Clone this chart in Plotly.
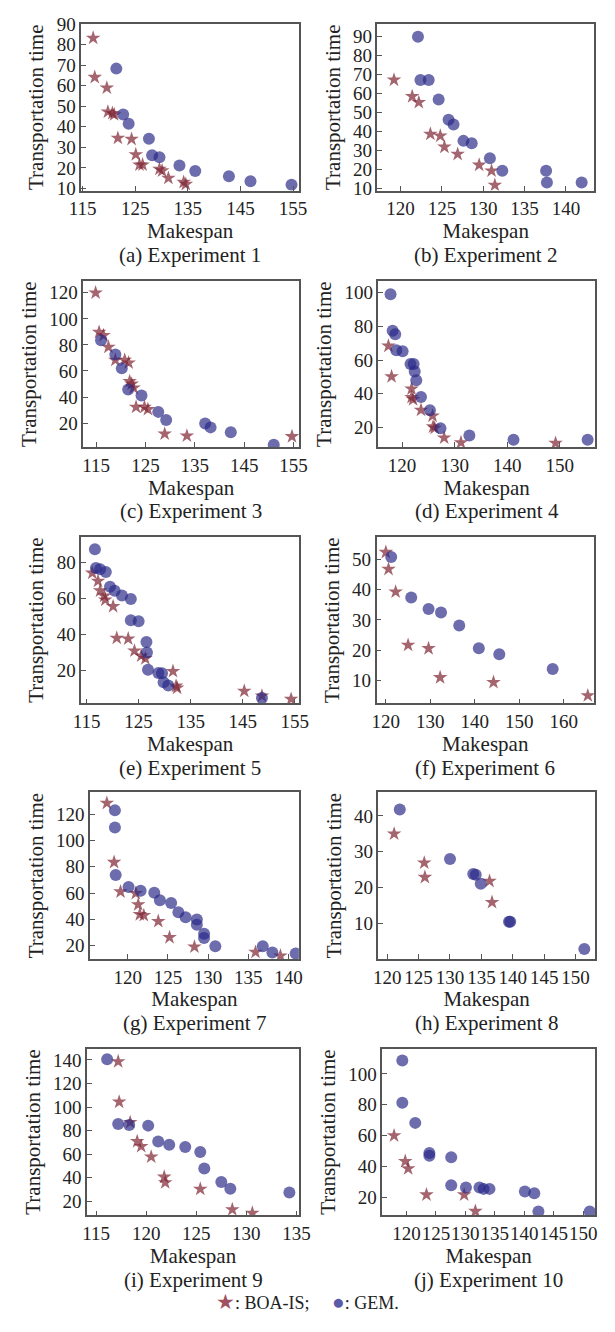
import plotly.graph_objects as go

# The page keeps the browser's default 8px body margin, so the figure is
# drawn on a 599x1316 canvas placed at (8, 8) of the 615x1332 window.
PAGE_W, PAGE_H, OFF = 615, 1332, 8
W, H = PAGE_W - 2 * OFF, PAGE_H - 2 * OFF

# ---------------- data (Makespan, Transportation time) ----------------
exp1_boa_x = [117.0, 117.3, 119.6, 119.8, 120.65, 121.0, 121.7, 124.3, 125.1, 125.8, 126.4, 129.6, 130.1, 131.3, 134.2, 134.6]
exp1_boa_y = [83.3, 64.2, 59.0, 47.3, 46.6, 46.0, 34.5, 34.0, 26.5, 21.5, 21.5, 19.4, 18.6, 15.0, 13.0, 12.0]
exp1_gem_x = [121.4, 122.7, 123.75, 127.6, 128.2, 129.6, 133.4, 136.4, 142.8, 146.9, 154.7]
exp1_gem_y = [68.4, 46.0, 41.5, 34.2, 26.2, 25.2, 21.2, 18.5, 15.9, 13.5, 11.8]

exp2_boa_x = [119.2, 121.4, 122.2, 123.6, 124.8, 125.3, 126.9, 129.5, 131.0, 131.4]
exp2_boa_y = [67.1, 58.4, 55.3, 38.6, 37.6, 31.8, 28.0, 22.3, 19.2, 11.7]
exp2_gem_x = [122.1, 122.4, 123.4, 124.6, 125.8, 126.4, 127.6, 128.6, 130.8, 132.3, 137.6, 137.7, 141.9]
exp2_gem_y = [89.8, 67.1, 67.1, 56.8, 46.1, 43.6, 35.0, 33.8, 25.8, 19.2, 19.2, 13.1, 13.1]

exp3_boa_x = [114.9, 115.6, 116.5, 117.5, 118.9, 120.8, 121.6, 121.8, 122.2, 122.6, 123.1, 124.8, 125.5, 128.9, 133.4, 154.7]
exp3_boa_y = [120.0, 89.8, 87.3, 78.4, 68.4, 68.4, 66.3, 52.0, 50.0, 47.0, 32.3, 32.3, 30.6, 11.7, 10.2, 9.7]
exp3_gem_x = [116.0, 118.9, 120.2, 121.5, 124.2, 127.6, 129.2, 137.1, 138.2, 142.3, 151.0]
exp3_gem_y = [83.5, 72.6, 62.0, 45.7, 41.2, 28.6, 22.3, 19.7, 16.7, 12.9, 3.4]

exp4_boa_x = [117.4, 118.0, 121.8, 121.8, 122.1, 123.6, 125.8, 125.9, 126.2, 128.0, 131.2, 149.2]
exp4_boa_y = [68.4, 50.2, 42.9, 37.9, 36.6, 30.3, 26.8, 20.4, 19.6, 13.8, 11.0, 10.6]
exp4_gem_x = [117.8, 118.2, 118.7, 118.9, 120.1, 121.6, 122.2, 122.4, 122.7, 123.6, 125.3, 127.3, 132.8, 141.2, 155.3]
exp4_gem_y = [99.2, 77.4, 75.4, 65.9, 65.3, 57.7, 57.7, 53.2, 48.0, 38.0, 30.2, 19.5, 15.2, 12.6, 12.6]

exp5_boa_x = [116.1, 117.2, 117.6, 118.4, 118.6, 120.1, 120.8, 123.0, 124.2, 125.5, 126.3, 131.6, 132.2, 132.4, 145.3, 148.7, 154.3]
exp5_boa_y = [74.0, 69.5, 64.2, 61.3, 59.1, 55.5, 38.0, 37.6, 30.9, 28.2, 26.7, 19.6, 11.5, 10.4, 8.7, 6.0, 4.2]
exp5_gem_x = [116.6, 116.8, 117.6, 118.7, 119.5, 120.4, 121.8, 123.5, 123.5, 125.0, 126.5, 126.6, 126.8, 128.8, 129.5, 129.8, 130.7, 148.7]
exp5_gem_y = [87.1, 76.7, 76.0, 74.5, 66.4, 64.2, 61.5, 59.6, 47.8, 47.3, 35.8, 30.0, 20.4, 18.7, 18.5, 13.6, 11.8, 4.9]

exp6_boa_x = [120.0, 120.6, 122.2, 125.0, 129.6, 132.2, 144.2, 165.4]
exp6_boa_y = [52.4, 46.8, 39.3, 21.7, 20.6, 11.0, 9.4, 5.0]
exp6_gem_x = [121.2, 125.7, 129.6, 132.4, 136.5, 140.9, 145.5, 157.5]
exp6_gem_y = [50.8, 37.4, 33.6, 32.5, 28.2, 20.7, 18.7, 13.8]

exp7_boa_x = [117.4, 118.3, 119.1, 121.0, 121.3, 121.5, 122.0, 123.8, 125.2, 128.3, 135.9, 139.0]
exp7_boa_y = [128.5, 83.5, 61.0, 59.8, 51.2, 43.7, 43.0, 38.5, 26.2, 19.0, 15.0, 12.2]
exp7_gem_x = [118.4, 118.4, 118.5, 120.1, 121.6, 123.3, 124.0, 125.4, 126.3, 127.2, 128.6, 128.6, 129.5, 129.5, 130.9, 136.8, 138.0, 140.9]
exp7_gem_y = [123.0, 110.0, 73.7, 64.7, 61.7, 60.2, 54.6, 52.4, 45.4, 41.6, 39.9, 35.8, 29.0, 25.8, 19.5, 19.5, 14.8, 14.0]

exp8_boa_x = [121.1, 125.9, 126.0, 136.3, 136.7]
exp8_boa_y = [35.0, 26.9, 22.9, 21.8, 15.9]
exp8_gem_x = [122.0, 130.0, 133.7, 134.1, 134.9, 139.4, 139.6, 151.4]
exp8_gem_y = [41.8, 28.0, 23.8, 23.6, 21.1, 10.5, 10.5, 2.9]

exp9_boa_x = [117.2, 117.3, 118.4, 119.1, 119.5, 120.5, 121.8, 121.9, 125.4, 128.6, 130.6]
exp9_boa_y = [138.6, 104.3, 87.0, 70.8, 66.6, 57.7, 40.6, 35.9, 30.4, 13.0, 10.0]
exp9_gem_x = [116.1, 117.2, 118.3, 120.2, 121.2, 122.3, 123.9, 125.4, 125.8, 127.5, 128.4, 134.3]
exp9_gem_y = [140.6, 85.6, 84.8, 84.2, 70.8, 68.0, 66.0, 61.8, 47.8, 36.3, 30.7, 27.4]

exp10_boa_x = [117.9, 119.8, 120.3, 123.4, 129.8, 131.7]
exp10_boa_y = [60.0, 43.4, 38.7, 21.7, 21.7, 11.0]
exp10_gem_x = [119.3, 119.3, 121.5, 123.9, 123.9, 127.6, 127.6, 130.1, 132.4, 133.1, 134.1, 140.1, 141.7, 142.4, 151.1]
exp10_gem_y = [108.7, 81.3, 68.3, 48.7, 47.0, 46.0, 27.9, 26.4, 26.4, 25.5, 25.5, 23.8, 22.7, 10.8, 10.8]

captions = ["(a) Experiment 1", "(b) Experiment 2", "(c) Experiment 3", "(d) Experiment 4",
            "(e) Experiment 5", "(f) Experiment 6", "(g) Experiment 7", "(h) Experiment 8",
            "(i) Experiment 9", "(j) Experiment 10"]
series_names = ["BOA-IS", "GEM"]

boa_x = [exp1_boa_x, exp2_boa_x, exp3_boa_x, exp4_boa_x, exp5_boa_x, exp6_boa_x, exp7_boa_x, exp8_boa_x, exp9_boa_x, exp10_boa_x]
boa_y = [exp1_boa_y, exp2_boa_y, exp3_boa_y, exp4_boa_y, exp5_boa_y, exp6_boa_y, exp7_boa_y, exp8_boa_y, exp9_boa_y, exp10_boa_y]
gem_x = [exp1_gem_x, exp2_gem_x, exp3_gem_x, exp4_gem_x, exp5_gem_x, exp6_gem_x, exp7_gem_x, exp8_gem_x, exp9_gem_x, exp10_gem_x]
gem_y = [exp1_gem_y, exp2_gem_y, exp3_gem_y, exp4_gem_y, exp5_gem_y, exp6_gem_y, exp7_gem_y, exp8_gem_y, exp9_gem_y, exp10_gem_y]

# ---------------- layout / style ----------------
x_ranges = [(114.76, 156.1), (117.2, 143.4), (112.4, 156.1), (115.5, 156.7), (114.0, 155.8),
            (117.9, 166.8), (115.3, 141.3), (118.6, 153.1), (114.1, 135.25), (115.9, 152.0)]
x_tick = [(115, 10), (120, 5), (115, 10), (120, 10), (115, 10),
          (120, 10), (120, 5), (120, 5), (115, 5), (120, 5)]
y_ranges = [(8.9, 90.2), (8.8, 96.6), (1.6, 128.8), (8.3, 106.8), (1.8, 94.0),
            (2.4, 57.5), (9.8, 136.8), (0.1, 46.6), (8.0, 149.5), (8.3, 116.4)]
y_dtick = [10, 10, 20, 20, 20, 10, 20, 10, 20, 20]

# pixel boxes (window coordinates) of plot areas: (left, right) and rows (top, bottom)
px_lr = [(71, 298), (380, 606), (73, 298), (381, 607), (71, 298),
         (379, 606), (80, 298), (381, 607), (77, 298), (385, 607)]
rows_tb = [(14, 183), (275, 443), (534, 703), (793, 962), (1053, 1222)]


def px_x(v):
    return min(1.0, max(0.0, (v - OFF) / W))


def px_y(v):
    return min(1.0, max(0.0, 1 - (v - OFF) / H))


FONT = "Liberation Serif, Times New Roman, serif"
TXT = "#222222"
BOA_COLOR = "rgb(125,35,50)"
GEM_COLOR = "rgb(40,40,135)"
AX_COLOR = "#555555"

fig = go.Figure()
layout = dict(
    width=W, height=H, autosize=False,
    margin=dict(l=0, r=0, t=0, b=0),
    paper_bgcolor="white", plot_bgcolor="white",
    showlegend=False,
    font=dict(family=FONT, size=18, color=TXT),
    annotations=[],
)

for i in range(10):
    n = i + 1
    sfx = "" if n == 1 else str(n)
    l, r = px_lr[i]
    t, b = rows_tb[i // 2]
    xa = dict(
        domain=[px_x(l), px_x(r)], range=list(x_ranges[i]),
        tick0=x_tick[i][0], dtick=x_tick[i][1], tickangle=0,
        ticks="inside", ticklen=5, tickwidth=1, tickcolor=AX_COLOR,
        showline=True, linecolor=AX_COLOR, linewidth=1.5, mirror=True,
        showgrid=False, zeroline=False, ticklabeloverflow="allow",
        tickfont=dict(family=FONT, size=19, color=TXT),
        title=dict(text="Makespan", font=dict(family=FONT, size=21, color=TXT), standoff=1),
        anchor="y" + sfx,
    )
    ya = dict(
        domain=[px_y(b), px_y(t)], range=list(y_ranges[i]),
        tick0=0, dtick=y_dtick[i],
        ticks="inside", ticklen=5, tickwidth=1, tickcolor=AX_COLOR,
        showline=True, linecolor=AX_COLOR, linewidth=1.5, mirror=True,
        showgrid=False, zeroline=False, ticklabeloverflow="allow",
        tickfont=dict(family=FONT, size=19, color=TXT),
        title=dict(text="Transportation time", font=dict(family=FONT, size=21, color=TXT), standoff=7),
        anchor="x" + sfx,
    )
    layout["xaxis" + sfx] = xa
    layout["yaxis" + sfx] = ya

    fig.add_trace(go.Scatter(
        x=boa_x[i], y=boa_y[i], mode="markers", name=series_names[0],
        xaxis="x" + sfx, yaxis="y" + sfx,
        marker=dict(symbol="star", size=11, color=BOA_COLOR, opacity=0.7, line=dict(width=0)),
    ))
    fig.add_trace(go.Scatter(
        x=gem_x[i], y=gem_y[i], mode="markers", name=series_names[1],
        xaxis="x" + sfx, yaxis="y" + sfx,
        marker=dict(symbol="circle", size=12, color=GEM_COLOR, opacity=0.68, line=dict(width=0)),
    ))

    layout["annotations"].append(dict(
        text=captions[i], xref="paper", yref="paper",
        x=px_x((l + r) / 2), y=px_y(b + 65),
        xanchor="center", yanchor="middle", showarrow=False,
        font=dict(family=FONT, size=21, color=TXT),
    ))

# key line at the bottom
layout["annotations"].append(dict(
    text=("<span style='color:#a0505f;font-size:21px'>★</span>: " + series_names[0] + ";     "
          "<span style='color:#5a5aa8;font-size:21px'>●</span>: " + series_names[1] + "."),
    xref="paper", yref="paper", x=px_x(307), y=px_y(1310),
    xanchor="center", yanchor="middle", showarrow=False,
    font=dict(family=FONT, size=18, color=TXT),
))

fig.update_layout(**layout)
fig.write_html("out.html", config={"displayModeBar": False})
